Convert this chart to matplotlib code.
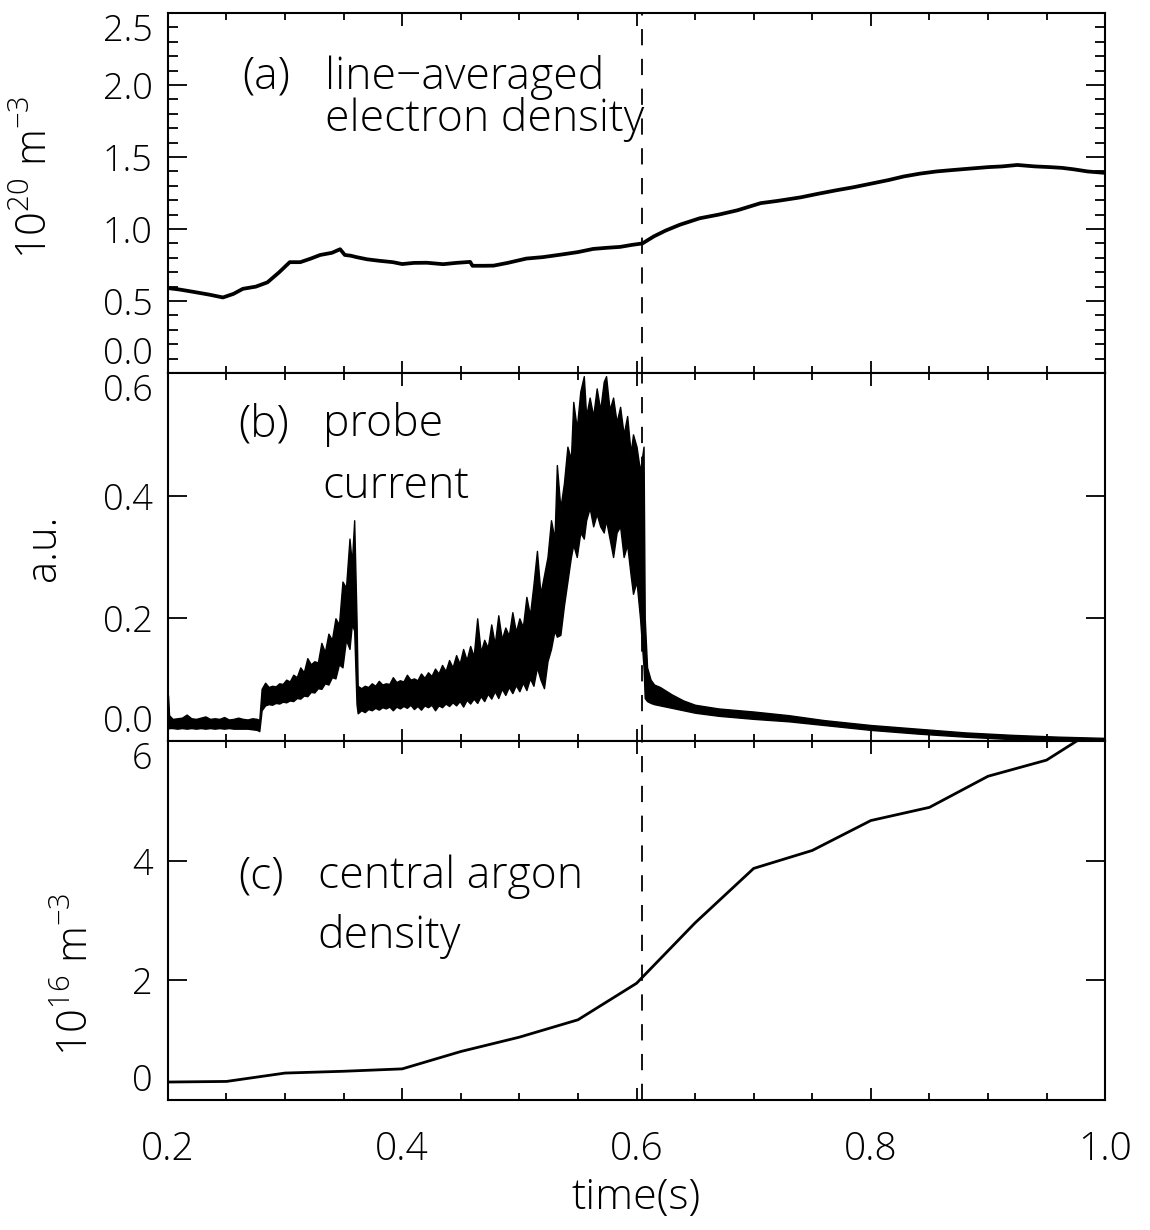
import matplotlib.pyplot as plt
from matplotlib.ticker import MultipleLocator

plt.rcParams['font.family'] = ['Open Sans', 'DejaVu Sans']
plt.rcParams['font.weight'] = 'light'
plt.rcParams['axes.labelweight'] = 'light'
plt.rcParams['mathtext.default'] = 'regular'

# (a) line-averaged electron density [1e20 m^-3]
t_a = [0.200, 0.210, 0.221, 0.235, 0.247, 0.256, 0.264, 0.275, 0.285, 0.295,
       0.304, 0.313, 0.322, 0.330, 0.340, 0.347, 0.351, 0.356, 0.361, 0.370,
       0.380, 0.392, 0.400, 0.410, 0.421, 0.435, 0.446, 0.458, 0.460, 0.470,
       0.478, 0.490, 0.506, 0.520, 0.535, 0.550, 0.563, 0.575, 0.586, 0.596,
       0.605, 0.615, 0.625, 0.637, 0.654, 0.670, 0.686, 0.706, 0.720, 0.740,
       0.755, 0.771, 0.785, 0.800, 0.815, 0.828, 0.842, 0.856, 0.870, 0.885,
       0.900, 0.912, 0.925, 0.940, 0.953, 0.963, 0.973, 0.985, 1.000]
ne_a = [0.59, 0.58, 0.565, 0.545, 0.525, 0.55, 0.585, 0.60, 0.63, 0.70,
        0.77, 0.77, 0.795, 0.82, 0.835, 0.86, 0.82, 0.815, 0.805, 0.79,
        0.78, 0.77, 0.757, 0.765, 0.766, 0.756, 0.765, 0.772, 0.745, 0.745,
        0.746, 0.765, 0.795, 0.805, 0.822, 0.84, 0.862, 0.87, 0.876, 0.89,
        0.90, 0.95, 0.99, 1.03, 1.075, 1.10, 1.13, 1.18, 1.195, 1.22,
        1.245, 1.27, 1.29, 1.315, 1.34, 1.365, 1.385, 1.40, 1.41, 1.42,
        1.43, 1.435, 1.445, 1.435, 1.43, 1.425, 1.415, 1.40, 1.39]

# (b) probe current [a.u.] - noisy trace, read as lower / upper edge of the band
t_b = [0.200, 0.201, 0.204, 0.208, 0.212, 0.216, 0.220, 0.224, 0.228, 0.232,
       0.236, 0.240, 0.244, 0.248, 0.252, 0.256, 0.260, 0.264, 0.268, 0.272,
       0.276, 0.278,
       0.280, 0.283, 0.286, 0.289, 0.292, 0.295, 0.298, 0.301, 0.304, 0.307,
       0.310, 0.313, 0.316, 0.319, 0.322, 0.325, 0.328, 0.331, 0.334, 0.337,
       0.340, 0.343, 0.346, 0.349, 0.352, 0.355, 0.357, 0.359, 0.361, 0.362,
       0.365, 0.368, 0.371, 0.374, 0.377, 0.380, 0.383, 0.386, 0.389, 0.392,
       0.395, 0.398, 0.401, 0.404, 0.407, 0.410, 0.413, 0.416, 0.419, 0.422,
       0.425, 0.428, 0.431, 0.434, 0.437, 0.440, 0.443, 0.446, 0.449, 0.452,
       0.455, 0.458, 0.461, 0.464, 0.467, 0.470, 0.473, 0.476, 0.479, 0.482,
       0.485, 0.488, 0.491, 0.494, 0.497, 0.500, 0.503, 0.506, 0.509, 0.512,
       0.515, 0.518, 0.521, 0.524, 0.527, 0.530, 0.532, 0.535, 0.538, 0.541,
       0.544, 0.546, 0.549, 0.552, 0.555, 0.557, 0.560, 0.563, 0.566, 0.569,
       0.572, 0.574, 0.577, 0.580, 0.583, 0.586, 0.589, 0.592, 0.595, 0.597,
       0.600, 0.603, 0.606, 0.607, 0.609, 0.612, 0.615,
       0.620, 0.625, 0.630, 0.640, 0.650, 0.670, 0.700, 0.730, 0.760, 0.800,
       0.840, 0.880, 0.920, 0.960, 1.000]
lo_b = [0.020, 0.021, 0.021, 0.020, 0.021, 0.020, 0.021, 0.020, 0.021, 0.020,
        0.021, 0.020, 0.021, 0.020, 0.021, 0.020, 0.020, 0.020, 0.020, 0.019,
        0.018, 0.016,
        0.050, 0.058, 0.060, 0.059, 0.062, 0.061, 0.064, 0.063, 0.066, 0.065,
        0.070, 0.069, 0.074, 0.073, 0.080, 0.079, 0.086, 0.085, 0.094, 0.092,
        0.104, 0.102, 0.125, 0.120, 0.165, 0.150, 0.190, 0.180, 0.060, 0.045,
        0.050, 0.047, 0.052, 0.050, 0.054, 0.051, 0.055, 0.053, 0.056, 0.050,
        0.056, 0.053, 0.057, 0.054, 0.059, 0.052, 0.057, 0.051, 0.058, 0.055,
        0.059, 0.050, 0.058, 0.055, 0.061, 0.057, 0.063, 0.058, 0.065, 0.056,
        0.067, 0.061, 0.069, 0.062, 0.073, 0.065, 0.077, 0.069, 0.081, 0.070,
        0.085, 0.075, 0.088, 0.078, 0.091, 0.081, 0.095, 0.083, 0.102, 0.090,
        0.120, 0.100, 0.086, 0.130, 0.150, 0.180, 0.170, 0.173, 0.220, 0.260,
        0.300, 0.320, 0.300, 0.340, 0.330, 0.360, 0.380, 0.350, 0.370, 0.350,
        0.340, 0.360, 0.330, 0.300, 0.340, 0.350, 0.300, 0.320, 0.270, 0.240,
        0.260, 0.200, 0.120, 0.070, 0.065, 0.062, 0.060,
        0.058, 0.056, 0.054, 0.050, 0.046, 0.041, 0.036, 0.032, 0.026, 0.018,
        0.012, 0.007, 0.003, 0.001, 0.000]
hi_b = [0.075, 0.042, 0.036, 0.037, 0.038, 0.043, 0.037, 0.036, 0.038, 0.040,
        0.036, 0.037, 0.036, 0.039, 0.035, 0.036, 0.038, 0.036, 0.035, 0.037,
        0.036, 0.034,
        0.085, 0.095, 0.088, 0.090, 0.089, 0.094, 0.093, 0.100, 0.097, 0.108,
        0.104, 0.120, 0.112, 0.135, 0.125, 0.130, 0.128, 0.160, 0.145, 0.175,
        0.165, 0.200, 0.190, 0.260, 0.250, 0.330, 0.290, 0.360, 0.200, 0.090,
        0.086, 0.090, 0.088, 0.094, 0.090, 0.098, 0.092, 0.094, 0.093, 0.104,
        0.096, 0.099, 0.097, 0.108, 0.100, 0.102, 0.099, 0.110, 0.103, 0.112,
        0.106, 0.118, 0.110, 0.124, 0.114, 0.132, 0.120, 0.140, 0.126, 0.150,
        0.132, 0.155, 0.138, 0.200, 0.145, 0.165, 0.152, 0.190, 0.158, 0.205,
        0.166, 0.185, 0.172, 0.210, 0.178, 0.200, 0.186, 0.235, 0.205, 0.255,
        0.310, 0.240, 0.270, 0.300, 0.360, 0.330, 0.450, 0.380, 0.420, 0.480,
        0.460, 0.553, 0.510, 0.570, 0.595, 0.530, 0.560, 0.530, 0.575, 0.540,
        0.586, 0.595, 0.540, 0.560, 0.520, 0.545, 0.500, 0.530, 0.470, 0.500,
        0.480, 0.440, 0.480, 0.200, 0.120, 0.100, 0.092,
        0.088, 0.082, 0.076, 0.066, 0.059, 0.053, 0.048, 0.042, 0.034, 0.026,
        0.020, 0.014, 0.010, 0.007, 0.005]

# (c) central argon density [1e16 m^-3]
t_c = [0.20, 0.25, 0.30, 0.35, 0.40, 0.45, 0.50, 0.55, 0.60,
       0.65, 0.70, 0.75, 0.80, 0.85, 0.90, 0.95, 1.00]
nar_c = [0.30, 0.31, 0.45, 0.48, 0.52, 0.81, 1.05, 1.34, 1.95,
         2.96, 3.87, 4.17, 4.67, 4.89, 5.41, 5.68, 6.30]

t_mark = 0.605

fig = plt.figure(figsize=(11.5, 12.3), dpi=100)
left, width = 0.146, 0.815
ax_a = fig.add_axes([left, 0.6967, width, 0.2927])
ax_b = fig.add_axes([left, 0.3976, width, 0.2991])
ax_c = fig.add_axes([left, 0.1057, width, 0.2919])

ax_a.plot(t_a, ne_a, color='k', lw=2.7)
ax_b.fill_between(t_b, lo_b, hi_b, facecolor='k', edgecolor='k', lw=1.0)
ax_c.plot(t_c, nar_c, color='k', lw=2.0)

ax_a.set_ylim(0, 2.5)
ax_b.set_ylim(0, 0.6)
ax_c.set_ylim(0, 6)

ax_a.set_yticks([0, 0.5, 1.0, 1.5, 2.0, 2.5])
ax_a.set_yticklabels(['0.0', '0.5', '1.0', '1.5', '2.0', '2.5'])
ax_a.yaxis.set_minor_locator(MultipleLocator(0.1))
ax_b.set_yticks([0, 0.2, 0.4, 0.6])
ax_b.set_yticklabels(['0.0', '0.2', '0.4', '0.6'])
ax_c.set_yticks([0, 2, 4, 6])
ax_c.set_yticklabels(['0', '2', '4', '6'])

for ax in (ax_a, ax_b, ax_c):
    ax.set_xlim(0.2, 1.0)
    ax.axvline(t_mark, color='k', lw=1.3, ls=(0, (9, 7.5)))
    ax.xaxis.set_major_locator(MultipleLocator(0.2))
    ax.xaxis.set_minor_locator(MultipleLocator(0.05))
    ax.tick_params(which='both', direction='in', top=True, right=True,
                   width=1.3, labelsize=26, pad=11)
    ax.tick_params(axis='y', which='major', length=14)
    ax.tick_params(axis='y', which='minor', length=7)
    ax.tick_params(axis='x', which='major', length=9)
    ax.tick_params(axis='x', which='minor', length=5)
    for s in ax.spines.values():
        s.set_linewidth(1.5)
    labels = ax.get_yticklabels()
    labels[0].set_va('bottom')
    labels[-1].set_va('top')

for ax in (ax_a, ax_b):
    ax.tick_params(axis='x', labelbottom=False)

ax_c.set_xticks([0.2, 0.4, 0.6, 0.8, 1.0])
ax_c.set_xticklabels(['0.2', '0.4', '0.6', '0.8', '1.0'])
ax_c.tick_params(axis='x', labelsize=28, pad=22)
ax_c.set_xlabel('time(s)', fontsize=31)
ax_c.xaxis.set_label_coords(0.5, -0.212)

ax_a.set_ylabel('10$^{20}$ m$^{-3}$', fontsize=30)
ax_a.yaxis.set_label_coords(-0.118, 0.545)
ax_b.set_ylabel('a.u.', fontsize=30)
ax_b.yaxis.set_label_coords(-0.11, 0.524)
ax_c.set_ylabel('10$^{16}$ m$^{-3}$', fontsize=30)
ax_c.yaxis.set_label_coords(-0.075, 0.35)

fs = 32
ax_a.text(0.079, 0.822, '(a)', transform=ax_a.transAxes, fontsize=fs, va='center')
ax_a.text(0.168, 0.822, 'line−averaged', transform=ax_a.transAxes, fontsize=fs, va='center')
ax_a.text(0.168, 0.705, 'electron density', transform=ax_a.transAxes, fontsize=fs, va='center')
ax_b.text(0.075, 0.859, '(b)', transform=ax_b.transAxes, fontsize=fs, va='center')
ax_b.text(0.165, 0.859, 'probe', transform=ax_b.transAxes, fontsize=fs, va='center')
ax_b.text(0.165, 0.69, 'current', transform=ax_b.transAxes, fontsize=fs, va='center')
ax_c.text(0.075, 0.621, '(c)', transform=ax_c.transAxes, fontsize=fs, va='center')
ax_c.text(0.160, 0.621, 'central argon', transform=ax_c.transAxes, fontsize=fs, va='center')
ax_c.text(0.160, 0.455, 'density', transform=ax_c.transAxes, fontsize=fs, va='center')

fig.savefig('out.png', dpi=100, facecolor='white')
